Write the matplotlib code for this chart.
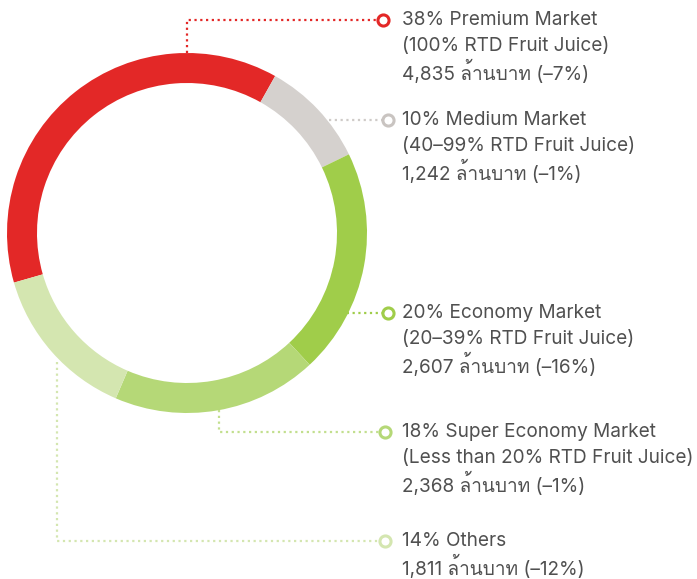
"""Donut chart: RTD fruit juice market share by segment."""
import numpy as np
import matplotlib as mpl
import matplotlib.pyplot as plt
from matplotlib import font_manager
from matplotlib.ft2font import FT2Font

# Data
SEGMENTS = ["Premium Market", "Medium Market", "Economy Market",
            "Super Economy Market", "Others"]
SHARE_PCT = [38, 10, 20, 18, 14]
SALES_MB = [4835, 1242, 2607, 2368, 1811]
SALES_CHANGE = [-7, -1, -16, -1, -12]
SUBTITLES = ["(100% RTD Fruit Juice)", "(40\u201399% RTD Fruit Juice)",
             "(20\u201339% RTD Fruit Juice)", "(Less than 20% RTD Fruit Juice)", None]
UNIT = "ล้านบาท"

COLORS = ["#e32827", "#d5d1ce", "#a0cd4a", "#b5d877", "#d4e6b0"]
LINE_COLORS = ["#e32827", "#cfcbc8", "#a0cd4a", "#c2df8e", "#d4e6b0"]
TEXT_COLOR = "#505050"

W, H = 697, 579
CX, CY, R_OUT, RING = 187, 233, 180, 30
# connector anchors on the ring (angle deg, radius px) and label rows (px from top)
ANCHORS = [(90, 180), (38.5, 181), (-13.5, 151), (-79.8, 180), (-135.2, 183)]
LABEL_Y = [20, 120, 313, 432, 541]
MARKER_X = [383, 388, 388, 385, 385]
TEXT_X = 402
LINE_STEP = 26


def thai_font():
    for f in font_manager.fontManager.ttflist:
        try:
            if 0x0E25 in FT2Font(f.fname).get_charmap():
                return f.name
        except Exception:
            continue
    return None


fams = ["Inter"]
tf = thai_font()
if tf:
    fams.append(tf)
fams.append("DejaVu Sans")
mpl.rcParams["font.family"] = fams

fig = plt.figure(figsize=(W / 100, H / 100), dpi=100)
ax = fig.add_axes([0, 0, 1, 1])


def py(y):
    return H - y


ax.pie(SALES_MB, colors=COLORS, startangle=196, counterclock=False,
       center=(CX, py(CY)), radius=R_OUT,
       wedgeprops=dict(width=RING, linewidth=0))

for i, seg in enumerate(SEGMENTS):
    ang, r = ANCHORS[i]
    x0 = CX + r * np.cos(np.radians(ang))
    y0 = CY - r * np.sin(np.radians(ang))
    ly = LABEL_Y[i]
    ax.plot([x0, x0, MARKER_X[i]], [py(y0), py(ly), py(ly)],
            color=LINE_COLORS[i], lw=1.6, ls=(0, (1, 1.6)), zorder=1)
    ax.plot(MARKER_X[i], py(ly), marker="o", ms=8, mfc="white",
            mec=COLORS[i] if i != 1 else "#c9c4c1", mew=2.2, zorder=3)

    lines = [f"{SHARE_PCT[i]}% {seg}"]
    if SUBTITLES[i]:
        lines.append(SUBTITLES[i])
    lines.append(f"{SALES_MB[i]:,} {UNIT} (\u2013{abs(SALES_CHANGE[i])}%)")
    for k, t in enumerate(lines):
        ax.text(TEXT_X, py(ly + k * LINE_STEP), t, fontsize=13.7,
                color=TEXT_COLOR, va="center", ha="left")

ax.set_xlim(0, W)
ax.set_ylim(0, H)
ax.set_aspect("equal")
ax.axis("off")

fig.savefig("out.png", dpi=100)
